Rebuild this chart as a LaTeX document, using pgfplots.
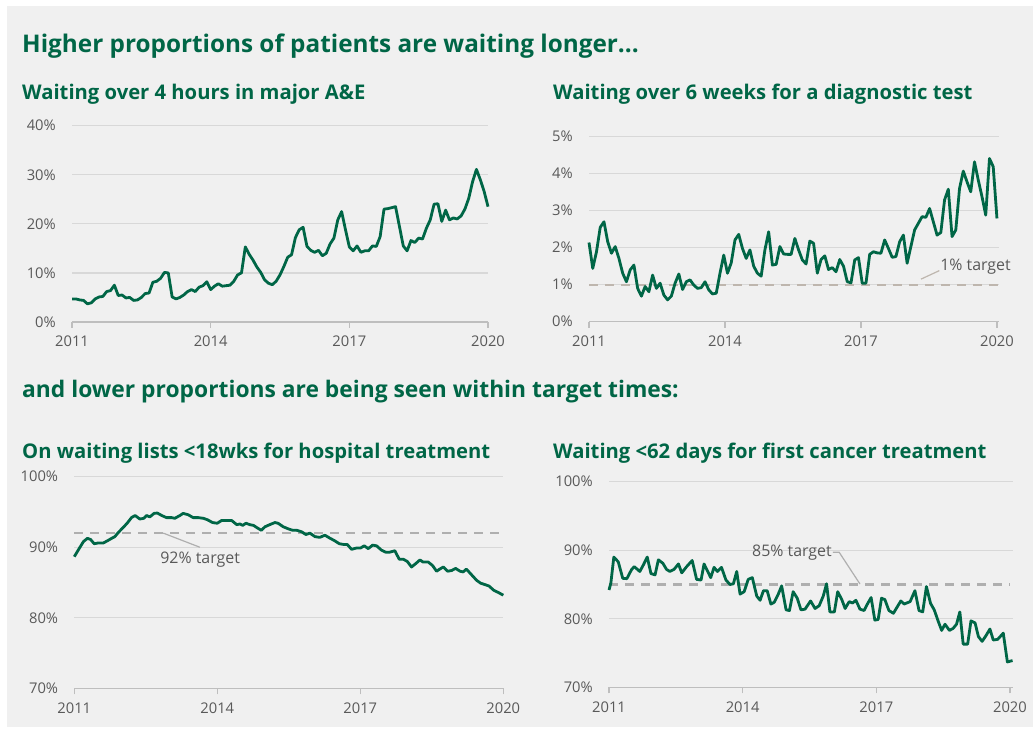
\documentclass[border=0pt]{standalone}
\usepackage{pgfplots}
\pgfplotsset{compat=1.18}
\usepackage{fontspec}
\setmainfont{Open Sans}
\definecolor{hfgreen}{RGB}{0,102,70}
\definecolor{bggrey}{RGB}{240,240,240}
\definecolor{gridgrey}{RGB}{216,216,216}
\definecolor{axisgrey}{RGB}{190,190,190}
\definecolor{labgrey}{RGB}{89,89,89}
\definecolor{dashgrey}{RGB}{175,175,175}
\definecolor{dashbrown}{RGB}{190,182,174}
\pgfplotsset{
  panel/.style={
    scale only axis,
    anchor=south west,
    axis x line=bottom,
    axis y line=left,
    y axis line style={draw=none},
    x axis line style={draw=axisgrey, line width=1.2bp, -},
    ytick style={draw=none},
    xtick style={draw=axisgrey, line width=1.2bp},
    tick align=outside,
    major tick length=6bp,
    ymajorgrids,
    grid style={draw=gridgrey, line width=1.2bp},
    tick label style={font=\fontsize{14.8}{17}\selectfont, text=labgrey},
    yticklabel style={anchor=east, inner sep=0pt, xshift=-10bp},
    xticklabel style={anchor=base, inner sep=0pt, yshift=-19bp},
    xticklabels={2011,2014,2017,2020},
    clip=false,
  },
  dataline/.style={draw=hfgreen, line width=2.8bp, line join=round, mark=none},
  target/.style={line width=2.2bp, dash pattern=on 9bp off 7bp, mark=none},
}
\pgfplotstableread{
x y
0 4.7
1 4.7
2 4.5
3 4.4
4 3.7
5 3.9
6 4.7
7 5.1
8 5.2
9 6.2
10 6.4
11 7.5
12 5.4
13 5.5
14 4.9
15 5.0
16 4.4
17 4.5
18 5.0
19 5.8
20 5.9
21 8.1
22 8.3
23 8.9
24 10.1
25 10.0
26 5.1
27 4.7
28 5.0
29 5.5
30 6.2
31 6.6
32 6.2
33 7.1
34 7.4
35 8.2
36 6.6
37 7.3
38 7.8
39 7.3
40 7.4
41 7.5
42 8.3
43 9.6
44 10.0
45 15.3
46 13.8
47 12.6
48 11.2
49 10.1
50 8.6
51 7.9
52 7.6
53 8.3
54 9.6
55 11.3
56 13.2
57 13.7
58 17.2
59 18.8
60 19.3
61 15.4
62 14.6
63 14.2
64 14.6
65 13.5
66 14.0
67 15.9
68 17.1
69 20.8
70 22.5
71 18.8
72 15.3
73 14.5
74 15.5
75 14.2
76 14.5
77 14.5
78 15.5
79 15.4
80 17.4
81 23.0
82 23.1
83 23.3
84 23.5
85 19.5
86 15.5
87 14.5
88 16.6
89 16.2
90 17.1
91 16.9
92 19.1
93 20.8
94 24.0
95 24.1
96 20.5
97 22.8
98 20.8
99 21.2
100 21.0
101 21.6
102 23.0
103 25.2
104 28.6
105 31.1
106 29.0
107 26.6
108 23.5
}\aetable
\pgfplotstableread{
x y
0 2.14
1 1.44
2 1.89
3 2.55
4 2.70
5 2.16
6 1.85
7 2.03
8 1.71
9 1.31
10 1.08
11 1.40
12 1.53
13 0.90
14 0.69
15 0.95
16 0.81
17 1.26
18 0.90
19 1.04
20 0.72
21 0.59
22 0.69
23 1.04
24 1.29
25 0.87
26 1.08
27 1.13
28 0.99
29 0.90
30 0.92
31 1.08
32 0.86
33 0.75
34 0.77
35 1.31
36 1.80
37 1.31
38 1.59
39 2.21
40 2.36
41 1.98
42 1.71
43 1.94
44 1.50
45 1.31
46 1.23
47 1.94
48 2.43
49 1.53
50 1.55
51 2.03
52 1.83
53 1.82
54 1.82
55 2.25
56 1.94
57 1.67
58 1.56
59 2.18
60 2.12
61 1.31
62 1.68
63 1.78
64 1.41
65 1.46
66 1.35
67 1.68
68 1.50
69 1.08
70 1.05
71 1.67
72 1.73
73 1.04
74 1.04
75 1.82
76 1.89
77 1.86
78 1.85
79 2.21
80 1.98
81 1.74
82 1.76
83 2.16
84 2.34
85 1.58
86 2.03
87 2.48
88 2.66
89 2.84
90 2.82
91 3.06
92 2.70
93 2.34
94 2.41
95 3.29
96 3.58
97 2.30
98 2.48
99 3.60
100 4.07
101 3.78
102 3.51
103 4.32
104 3.83
105 3.38
106 2.88
107 4.41
108 4.19
109 2.79
}\diagtable
\pgfplotstableread{
x y
0 88.66
1.0 89.6
2.3 90.8
3.3 91.26
4.1 91.1
5.0 90.5
6.0 90.6
7.3 90.6
8.3 90.9
9.4 91.26
10.2 91.5
11.1 92.1
12.3 92.8
13.3 93.4
14.4 94.2
15.3 94.5
16.5 94.0
17.5 94.1
18.2 94.5
19.0 94.3
20.1 94.8
20.9 94.85
22.0 94.5
23.2 94.2
24.5 94.2
25.3 94.1
26.6 94.5
27.4 94.8
28.7 94.6
29.9 94.2
31.2 94.2
32.5 94.1
33.5 93.9
34.8 93.5
36.0 93.4
37.1 93.8
38.3 93.8
39.6 93.8
40.9 93.2
41.7 93.3
42.4 93.1
43.2 93.4
44.2 93.2
45.1 93.1
45.9 92.8
47.1 92.4
48.0 92.9
49.2 93.2
50.5 93.5
51.3 93.4
52.6 92.9
53.9 92.6
55.0 92.4
56.0 92.4
57.2 92.2
58.3 91.8
59.3 92.0
60.6 91.5
61.8 91.4
63.1 91.7
64.3 91.3
65.6 90.9
66.7 90.5
67.7 90.4
68.7 90.4
69.8 89.7
71.1 89.9
72.1 89.9
73.0 90.2
74.0 89.8
75.1 90.3
76.1 90.2
77.3 89.6
78.4 89.3
79.4 89.3
80.7 89.5
81.8 88.3
82.8 88.3
83.8 88.0
84.9 87.2
86.0 87.7
87.0 88.2
87.8 87.9
89.1 87.9
90.2 87.4
91.2 86.6
92.0 86.9
92.9 87.2
94.0 86.6
95.0 86.7
96.0 87.0
97.1 86.6
97.9 86.5
98.7 86.9
100.0 86.1
101.3 85.3
102.3 84.9
103.4 84.7
104.4 84.5
105.6 83.9
106.7 83.6
108.0 83.2
}\rttable
\pgfplotstableread{
x y
0 84.2
0.5 85.2
1.3 89.0
2.5 88.3
3.7 85.9
4.8 85.85
6.1 87.2
6.8 87.6
8.3 86.9
9.2 87.8
10.3 89.0
11.3 86.6
12.4 86.4
13.3 88.6
14.5 88.1
15.5 87.2
16.4 86.9
17.5 87.2
18.7 88.0
19.6 86.7
20.9 87.6
22.4 88.5
23.6 85.75
24.8 85.65
25.6 88.0
26.5 87.0
27.4 86.0
28.3 87.5
29.2 86.9
30.3 87.5
31.5 85.65
32.6 85.0
33.5 85.1
34.4 86.9
35.3 83.6
36.4 83.95
37.5 85.75
38.6 86.0
39.8 83.3
40.7 82.7
41.6 84.1
42.6 84.1
43.6 82.15
44.5 82.4
45.6 83.6
46.5 84.8
47.7 81.3
48.6 81.2
49.6 83.95
50.7 83.0
51.7 81.3
52.8 81.4
54.3 82.6
55.5 81.5
56.6 81.9
57.7 83.3
58.6 85.1
59.5 81.0
60.7 81.0
61.6 83.95
62.7 82.8
63.6 81.5
64.7 82.5
65.6 82.3
66.5 82.7
67.6 81.4
68.7 81.2
69.6 82.15
70.6 83.1
71.6 79.8
72.5 79.9
73.4 83.0
74.3 82.8
75.4 81.2
76.6 80.8
77.6 81.7
78.6 82.6
79.5 82.15
81.1 82.5
82.4 84.1
83.5 81.2
84.5 81.0
85.5 84.7
86.6 82.25
87.6 81.3
88.7 79.6
89.6 78.3
90.5 79.2
91.7 78.3
92.7 78.6
93.6 79.2
94.5 81.0
95.4 76.3
96.6 76.3
97.5 79.7
98.6 79.4
99.5 77.4
100.5 76.7
101.5 77.5
102.6 78.5
103.5 76.9
104.7 77.0
106.2 77.9
107.3 73.7
108.7 73.9
}\cancertable
\begin{document}
\begin{tikzpicture}
\useasboundingbox (0bp,0bp) rectangle (1033bp,729bp);
\fill[white] (0bp,0bp) rectangle (1033bp,729bp);
\fill[bggrey] (7bp,2bp) rectangle (1033bp,723bp);
% titles
\node[anchor=base west, inner sep=0pt, text=hfgreen, font=\fontsize{24.4}{28}\selectfont\bfseries] at (22bp,676bp) {Higher proportions of patients are waiting longer...};
\node[anchor=base west, inner sep=0pt, text=hfgreen, font=\fontsize{22.9}{27}\selectfont\bfseries] at (22bp,331bp) {and lower proportions are being seen within target times:};
\node[anchor=base west, inner sep=0pt, text=hfgreen, font=\fontsize{20.3}{24}\selectfont\bfseries] at (22bp,629bp) {Waiting over 4 hours in major A\&E};
\node[anchor=base west, inner sep=0pt, text=hfgreen, font=\fontsize{20.3}{24}\selectfont\bfseries] at (553bp,629bp) {Waiting over 6 weeks for a diagnostic test};
\node[anchor=base west, inner sep=0pt, text=hfgreen, font=\fontsize{20.3}{24}\selectfont\bfseries] at (22bp,270bp) {On waiting lists <18wks for hospital treatment};
\node[anchor=base west, inner sep=0pt, text=hfgreen, font=\fontsize{20.3}{24}\selectfont\bfseries] at (553bp,270bp) {Waiting <62 days for first cancer treatment};

% Panel 1
\begin{axis}[panel, at={(72bp,407bp)}, width=416bp, height=196.3bp,
  xmin=0, xmax=108, ymin=0, ymax=40,
  xtick={0,36,72,108}, ytick={0,10,20,30,40},
  yticklabels={0\%,10\%,20\%,30\%,40\%}]
\addplot[dataline] table[x=x,y=y] {\aetable};
\end{axis}

% Panel 2
\begin{axis}[panel, at={(589bp,407.3bp)}, width=410.2bp, height=185bp,
  xmin=0, xmax=109.6, ymin=0, ymax=5,
  xtick={0,36.33,72.67,109}, ytick={0,1,2,3,4,5},
  yticklabels={0\%,1\%,2\%,3\%,4\%,5\%}]
\addplot[target, draw=dashbrown] coordinates {(0,1) (109.6,1)};
\addplot[dataline] table[x=x,y=y] {\diagtable};
\draw[dashbrown, line width=1.2bp] (axis cs:88.7,1.15) -- (axis cs:93.6,1.38);
\node[anchor=west, inner sep=0pt, text=labgrey, font=\fontsize{16}{19}\selectfont] at (axis cs:93.8,1.48) {1\% target};
\end{axis}

% Panel 3
\begin{axis}[panel, at={(74.3bp,40.7bp)}, width=429bp, height=211.6bp,
  xmin=0, xmax=108, ymin=70, ymax=100,
  xtick={0,36,72,108}, ytick={70,80,90,100},
  yticklabels={70\%,80\%,90\%,100\%}]
\addplot[target, draw=dashgrey] coordinates {(0,92) (108,92)};
\addplot[dataline] table[x=x,y=y] {\rttable};
\draw[dashgrey, line width=1.2bp] (axis cs:22.4,92.0) -- (axis cs:31.6,90.0);
\node[anchor=west, inner sep=0pt, text=labgrey, font=\fontsize{16}{19}\selectfont] at (axis cs:21.6,88.19) {92\% target};
\end{axis}

% Panel 4
\begin{axis}[panel, at={(609bp,41.7bp)}, width=404.3bp, height=205.6bp,
  xmin=0, xmax=108.9, ymin=70, ymax=100,
  xtick={0,36,72,108}, ytick={70,80,90,100},
  yticklabels={70\%,80\%,90\%,100\%}]
\addplot[target, draw=dashgrey] coordinates {(0,85) (108,85)};
\addplot[dataline] table[x=x,y=y] {\cancertable};
\draw[dashgrey, line width=1.2bp] (axis cs:60.3,89.7) -- (axis cs:62.0,89.7) -- (axis cs:67.6,85.07);
\node[anchor=west, inner sep=0pt, text=labgrey, font=\fontsize{16}{19}\selectfont] at (axis cs:38.5,89.6) {85\% target};
\end{axis}
\end{tikzpicture}
\end{document}
